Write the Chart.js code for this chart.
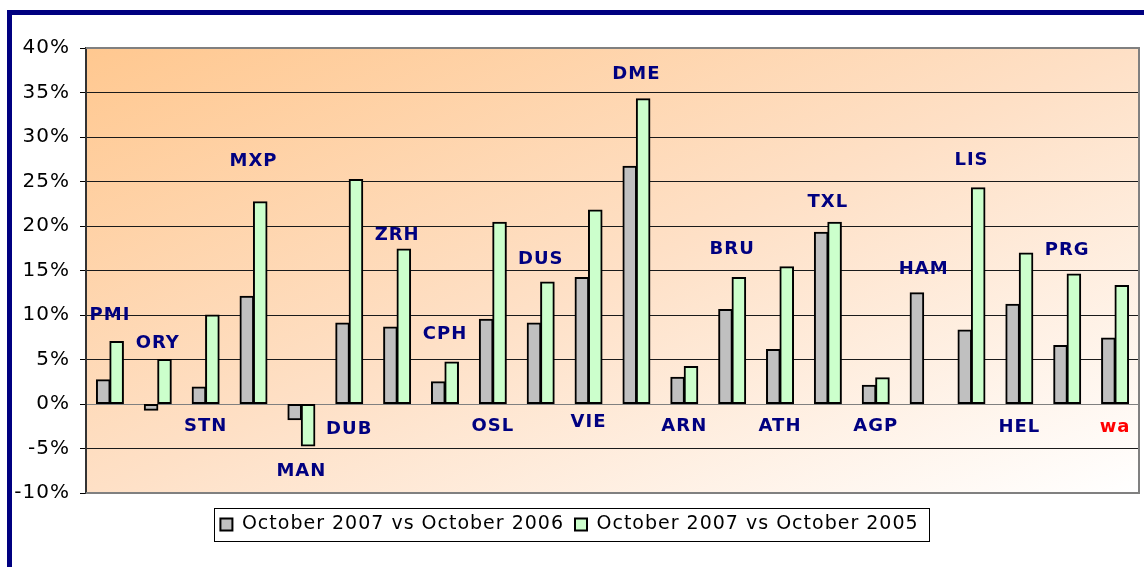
<!DOCTYPE html>
<html>
<head>
<meta charset="utf-8">
<script src="https://cdn.jsdelivr.net/npm/chart.js@4.4.1/dist/chart.umd.min.js"></script>
<style>
  html, body { margin: 0; padding: 0; background: #fff; }
  #wrap { position: relative; width: 1144px; height: 567px; overflow: hidden; }
  #frame { position: absolute; left: 7px; top: 10px; width: 2000px; height: 2000px;
           border-top: 5px solid #000080; border-left: 5px solid #000080; }
  #grafico { position: absolute; left: 0; top: 0; }
</style>
</head>
<body>
<div id="wrap">
  <div id="frame"></div>
  <canvas id="grafico" width="1144" height="567"></canvas>
</div>
<script>
// ========== DADOS ==========
const airports = ['PMI', 'ORY', 'STN', 'MXP', 'MAN', 'DUB', 'ZRH', 'CPH', 'OSL', 'DUS', 'VIE',
                  'DME', 'ARN', 'BRU', 'ATH', 'TXL', 'AGP', 'HAM', 'LIS', 'HEL', 'PRG', 'wa'];
const vs2006 = [2.7, -0.7, 1.9, 12.1, -1.75, 9.1, 8.65, 2.5, 9.5, 9.1, 14.2,
                26.7, 3.0, 10.6, 6.1, 19.3, 2.1, 12.5, 8.3, 11.2, 6.55, 7.4];
const vs2005 = [7.0, 5.0, 10.0, 22.7, -4.7, 25.2, 17.4, 4.7, 20.4, 13.7, 21.8,
                34.3, 4.2, 14.2, 15.4, 20.4, 2.95, null, 24.3, 16.95, 14.6, 13.3];
// height (in %) where each airport name is written
const labelLevels = [10.0, 6.8, -2.5, 27.3, -7.6, -2.9, 19.0, 7.8, -2.5, 16.2, -2.05,
                     37.0, -2.5, 17.4, -2.5, 22.7, -2.5, 15.1, 27.4, -2.6, 17.3, -2.6];
const yMin = -10, yMax = 40, yStep = 5;
const seriesNames = ['October 2007 vs October 2006', 'October 2007 vs October 2005'];

// ========== PLUGINS ==========
const spacing = {
  id: 'spacing',
  beforeLayout(chart) { chart.ctx.letterSpacing = '1px'; },
  beforeDraw(chart) { chart.ctx.letterSpacing = '1px'; }
};

const plotBackground = {
  id: 'plotBackground',
  beforeDraw(chart) {
    const { ctx, chartArea: a } = chart;
    const w = a.right - a.left, h = a.bottom - a.top;
    const k = 2 / (1 / (w * w) + 1 / (h * h));
    const g = ctx.createLinearGradient(a.left, a.top, a.left + k / w, a.top + k / h);
    g.addColorStop(0, '#FFC890');
    g.addColorStop(0.5, '#FEE0C6');
    g.addColorStop(1, '#FFFFFF');
    ctx.save();
    ctx.fillStyle = g;
    ctx.fillRect(a.left, a.top, w, h);
    ctx.restore();
  },
  afterDraw(chart) {
    const { ctx, chartArea: a } = chart;
    ctx.save();
    ctx.strokeStyle = '#808080';
    ctx.lineWidth = 2;
    ctx.beginPath();
    ctx.moveTo(a.left, a.top);
    ctx.lineTo(a.right, a.top);
    ctx.lineTo(a.right, a.bottom);
    ctx.lineTo(a.left, a.bottom);
    ctx.stroke();
    ctx.restore();
  }
};

const airportLabels = {
  id: 'airportLabels',
  afterDatasetsDraw(chart) {
    const { ctx, scales: { x, y } } = chart;
    ctx.save();
    ctx.font = 'bold 18px "DejaVu Sans"';
    ctx.textAlign = 'center';
    ctx.textBaseline = 'middle';
    airports.forEach((nome, i) => {
      ctx.fillStyle = nome === 'wa' ? '#FF0000' : '#000080';
      ctx.fillText(nome, x.getPixelForValue(i), y.getPixelForValue(labelLevels[i]));
    });
    ctx.restore();
  }
};

const legendBox = {
  id: 'legendBox',
  afterDraw(chart) {
    const boxes = chart.legend && chart.legend.legendHitBoxes;
    if (!boxes || !boxes.length) return;
    const left = Math.min(...boxes.map(b => b.left)) - 6;
    const right = Math.max(...boxes.map(b => b.left + b.width)) + 11;
    const top = boxes[0].top - 7;
    const bottom = boxes[0].top + boxes[0].height + 7;
    const ctx = chart.ctx;
    ctx.save();
    ctx.strokeStyle = '#000';
    ctx.lineWidth = 1;
    ctx.strokeRect(Math.round(left) + 0.5, Math.round(top) + 0.5, Math.round(right - left), Math.round(bottom - top));
    ctx.restore();
  }
};

// ========== GRÁFICO ==========
const ctx = document.getElementById('grafico').getContext('2d');
new Chart(ctx, {
  type: 'bar',
  data: {
    labels: airports,
    datasets: [{
      label: seriesNames[0],
      data: vs2006,
      backgroundColor: '#C0C0C0',
      borderColor: '#000',
      borderWidth: 2,
      borderSkipped: false,
      inflateAmount: 0.6,
      categoryPercentage: 0.56,
      barPercentage: 1
    }, {
      label: seriesNames[1],
      data: vs2005,
      backgroundColor: '#CCFFCC',
      borderColor: '#000',
      borderWidth: 2,
      borderSkipped: false,
      inflateAmount: 0.6,
      categoryPercentage: 0.56,
      barPercentage: 1
    }]
  },
  options: {
    responsive: false,
    animation: false,
    layout: { padding: { left: 0, right: 5, top: 48, bottom: 23 } },
    plugins: {
      tooltip: { enabled: false },
      legend: {
        position: 'bottom',
        labels: {
          font: { family: 'DejaVu Sans', size: 19 },
          color: '#000',
          boxWidth: 12,
          boxHeight: 12,
          padding: 11
        }
      }
    },
    scales: {
      x: {
        ticks: { display: false },
        grid: { display: true, drawOnChartArea: false, drawTicks: true, tickLength: 11, color: 'transparent' },
        border: { display: false }
      },
      y: {
        min: yMin,
        max: yMax,
        ticks: {
          stepSize: yStep,
          padding: 10,
          color: '#000',
          font: { family: 'DejaVu Sans', size: 20 },
          callback: v => v + '%'
        },
        grid: {
          color: c => (c.tick && c.tick.value === 0) ? '#808080' : '#1a1a1a',
          tickColor: '#000',
          tickLength: 6,
          lineWidth: 1
        },
        border: { display: true, color: '#333', width: 2 },
        afterFit(scale) { scale.width = 86; }
      }
    }
  },
  plugins: [spacing, plotBackground, airportLabels, legendBox]
});
</script>
</body>
</html>
